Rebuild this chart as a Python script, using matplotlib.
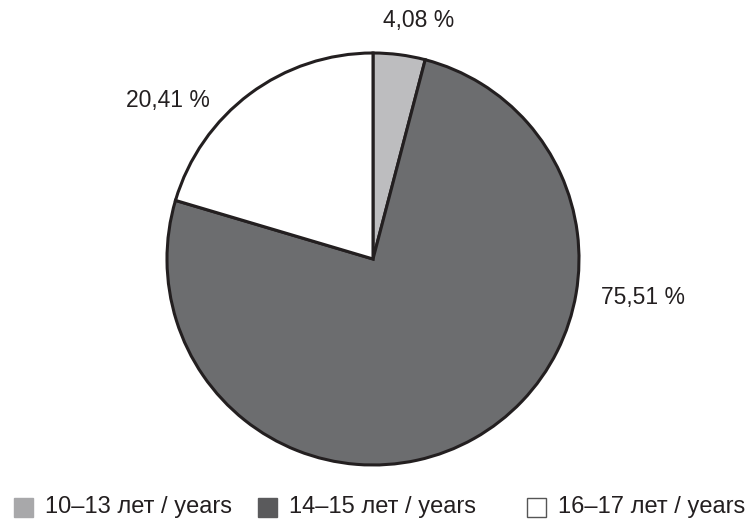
import matplotlib
matplotlib.use("Agg")
import matplotlib.pyplot as plt
from matplotlib.patches import Rectangle

labels = ["10–13 лет / years", "14–15 лет / years", "16–17 лет / years"]
values = [4.08, 75.51, 20.41]
pct_text = ["4,08 %", "75,51 %", "20,41 %"]
colors = ["#bdbdbf", "#6c6d6f", "#ffffff"]
legend_colors = ["#a8a8aa", "#5a5a5c", "#ffffff"]
label_pos = [(0.22, 1.16), (1.31, -0.185), (-0.995, 0.77)]
legend_x = [14, 258, 527]

plt.rcParams['font.family'] = ['Liberation Sans', 'DejaVu Sans']

W, H = 756, 530
fig = plt.figure(figsize=(W / 100, H / 100), dpi=100)
cx, cy, r = 373, 259, 206
ax = fig.add_axes([(cx - r) / W, (H - cy - r) / H, 2 * r / W, 2 * r / H])
ax.pie(values, colors=colors, startangle=90, counterclock=False, radius=1,
       wedgeprops=dict(edgecolor="#231f20", linewidth=2.2))
ax.set_xlim(-1, 1)
ax.set_ylim(-1, 1)
ax.axis("off")

for (x, y), t in zip(label_pos, pct_text):
    ax.text(x, y, t, ha="center", va="center", fontsize=16.5, color="#231f20")

sq = 19
ly = 507
for x0, c, lab in zip(legend_x, legend_colors, labels):
    ec = "#555555" if c == "#ffffff" else c
    fig.add_artist(Rectangle((x0 / W, (H - ly - sq / 2) / H), sq / W, sq / H,
                             facecolor=c, edgecolor=ec, linewidth=1,
                             transform=fig.transFigure))
    fig.text((x0 + 31) / W, (H - ly) / H, lab, ha="left", va="center",
             fontsize=17, color="#231f20")

fig.savefig("out.png", dpi=100)
